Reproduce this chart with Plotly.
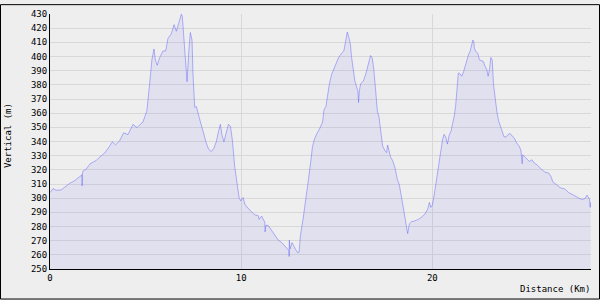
import plotly.graph_objects as go

# Elevation profile (distance in km, elevation in m)
distance_km = [
    0.00, 0.15, 0.32, 0.58, 0.85, 1.02, 1.28, 1.46, 1.63, 1.67, 1.68, 1.70, 1.72, 1.90,
    2.10, 2.42, 2.59, 2.85, 3.08, 3.26, 3.43, 3.64, 3.85, 4.08, 4.34, 4.55, 4.72, 4.86,
    5.07, 5.17, 5.26, 5.33, 5.44, 5.51, 5.61, 5.74, 5.91, 6.05, 6.17, 6.35, 6.49, 6.61,
    6.75, 6.87, 6.92, 7.01, 7.08, 7.17, 7.26, 7.34, 7.43, 7.48, 7.57, 7.66, 7.80, 7.92,
    8.04, 8.18, 8.30, 8.44, 8.57, 8.70, 8.81, 8.91, 9.00, 9.10, 9.23, 9.33, 9.44, 9.54,
    9.66, 9.79, 9.89, 9.98, 10.10, 10.19, 10.36, 10.54, 10.71, 10.89, 10.94, 11.07, 11.15,
    11.24, 11.25, 11.29, 11.41, 11.59, 11.76, 11.94, 12.11, 12.28, 12.46, 12.50, 12.51,
    12.52, 12.55, 12.66, 12.81, 12.93, 13.03, 13.10, 13.24, 13.38, 13.52, 13.64, 13.73,
    13.82, 13.94, 14.08, 14.20, 14.26, 14.33, 14.43, 14.50, 14.61, 14.73, 14.90, 15.08,
    15.25, 15.37, 15.46, 15.55, 15.64, 15.72, 15.77, 15.86, 15.95, 16.04, 16.11, 16.14,
    16.18, 16.25, 16.39, 16.51, 16.61, 16.70, 16.77, 16.86, 16.94, 17.03, 17.12, 17.21,
    17.29, 17.40, 17.52, 17.61, 17.66, 17.73, 17.82, 17.92, 18.05, 18.17, 18.27, 18.36,
    18.45, 18.53, 18.62, 18.71, 18.80, 18.92, 19.01, 19.27, 19.44, 19.62, 19.76, 19.85,
    19.92, 20.00, 20.09, 20.19, 20.28, 20.35, 20.44, 20.53, 20.61, 20.70, 20.79, 20.88,
    20.98, 21.07, 21.15, 21.22, 21.28, 21.36, 21.45, 21.54, 21.63, 21.71, 21.80, 21.89,
    21.98, 22.06, 22.12, 22.17, 22.20, 22.27, 22.38, 22.46, 22.55, 22.67, 22.76, 22.85,
    22.92, 22.99, 23.06, 23.13, 23.20, 23.28, 23.37, 23.46, 23.58, 23.65, 23.75, 23.86,
    23.98, 24.07, 24.19, 24.30, 24.42, 24.54, 24.63, 24.70, 24.73, 24.86, 24.98, 25.08,
    25.21, 25.33, 25.47, 25.61, 25.73, 25.90, 26.08, 26.20, 26.31, 26.48, 26.69, 26.95,
    27.13, 27.30, 27.48, 27.65, 27.77, 27.91, 28.00, 28.09, 28.17, 28.22, 28.26, 28.28,
]
elevation_m = [
    303.9, 306.7, 305.6, 305.8, 308.6, 310.4, 312.3, 313.9, 316.0, 316.5, 308.6, 318.0, 319.0, 320.6,
    324.3, 326.6, 328.9, 331.7, 335.9, 339.8, 337.7, 340.5, 346.1, 344.9, 352.1, 349.8, 352.1, 353.7,
    361.8, 373.4, 387.3, 397.7, 405.3, 397.7, 393.8, 399.3, 403.9, 403.9, 412.7, 416.2, 422.5, 417.8,
    424.8, 429.9, 428.5, 413.9, 396.5, 382.2, 403.5, 416.9, 411.6, 387.3, 364.1, 364.6, 357.2, 351.4,
    344.4, 338.7, 334.5, 332.9, 335.2, 339.8, 346.8, 352.1, 344.4, 339.8, 346.8, 352.1, 350.7, 341.0,
    322.5, 310.9, 300.5, 298.1, 300.5, 295.8, 292.8, 290.5, 288.2, 287.7, 285.0, 287.3, 285.4,
    283.0, 276.2, 280.8, 280.8, 277.3, 273.8, 270.4, 268.8, 266.4, 264.1, 263.0, 258.8,
    270.4, 264.0, 268.6, 265.0, 261.8, 261.8, 273.8, 285.4, 298.1, 313.2, 325.9, 336.3,
    341.0, 345.1, 348.4, 351.4, 353.7, 362.3, 364.6, 370.6, 380.3, 387.3, 392.4, 398.8,
    402.3, 403.9, 410.4, 417.3, 413.2, 408.1, 400.0, 390.7, 382.6, 378.5, 375.2, 367.6,
    375.7, 380.8, 382.6, 387.3, 393.1, 398.8, 400.7, 398.8, 390.7, 376.9, 361.8, 357.2,
    346.8, 336.8, 333.6, 332.2, 337.5, 334.0, 328.9, 326.6, 321.3, 313.2, 309.7, 302.8,
    295.8, 288.2, 283.1, 275.0, 281.9, 283.6, 283.6, 285.0, 286.6, 288.9, 292.4, 297.0,
    293.5, 295.1, 301.6, 310.9, 320.1, 325.9, 331.7, 341.0, 345.1, 343.3, 338.2, 344.4,
    347.5, 352.5, 358.3, 365.3, 376.9, 388.4, 387.7, 386.1, 389.1, 393.1, 396.5, 401.2,
    403.9, 409.3, 411.6, 410.4, 405.8, 403.5, 402.3, 397.7, 397.0, 396.5, 393.1, 390.7,
    386.1, 390.7, 399.3, 397.7, 380.3, 369.9, 361.8, 354.9, 350.2, 348.4, 343.3, 343.3,
    345.1, 345.6, 343.8, 342.1, 338.7, 336.8, 334.0, 324.3, 330.6, 328.9, 327.5, 325.9,
    327.1, 324.8, 323.6, 321.3, 320.1, 318.3, 317.8, 315.5, 311.3, 309.7, 307.4, 306.3,
    303.9, 302.8, 301.6, 300.5, 299.3, 299.3, 300.0, 302.1, 300.5, 299.3, 293.5, 297.0,
]

x_ticks = [0, 10, 20]
y_ticks = list(range(250, 431, 10))

FONT = "DejaVu Sans Mono"

fig = go.Figure()
fig.add_trace(go.Scatter(
    x=distance_km, y=elevation_m, mode="lines",
    line=dict(color="rgba(80,80,255,0.42)", width=1),
    fill="tozeroy", fillcolor="rgba(120,120,235,0.12)",
    hoverinfo="skip",
))

L, R, T, B = 50, 9, 10, 31
W, H = 600, 300
pw, ph = W - L - R, H - T - B

def px(X):
    return (X - L) / pw

def py(Y):
    return (H - B - Y) / ph

fig.update_layout(
    width=W, height=H,
    margin=dict(l=L, r=R, t=T, b=B),
    paper_bgcolor="#EEEEEE", plot_bgcolor="#EEEEEE",
    showlegend=False,
    font=dict(family=FONT, size=9, color="black"),
    xaxis=dict(
        range=[0, 28.3], tickvals=x_ticks, ticktext=[str(v) for v in x_ticks],
        showgrid=True, gridcolor="#D8D8D8", gridwidth=1,
        showline=True, linecolor="black", linewidth=1,
        zeroline=False, ticks="", ticklen=0,
        tickfont=dict(family=FONT, size=9, color="black"),
        fixedrange=True,
    ),
    yaxis=dict(
        range=[250, 430], tickvals=y_ticks, ticktext=[str(v) for v in y_ticks],
        showgrid=True, gridcolor="#D8D8D8", gridwidth=1,
        showline=True, linecolor="black", linewidth=1,
        zeroline=False, ticks="", ticklen=0,
        tickfont=dict(family=FONT, size=9, color="black"),
        fixedrange=True,
    ),
    annotations=[
        dict(text="Vertical (m)", textangle=-90, xref="paper", yref="paper",
             x=px(8), y=py(134), xanchor="center", yanchor="middle",
             showarrow=False, font=dict(family=FONT, size=9, color="black")),
        dict(text="Distance (Km)", xref="paper", yref="paper",
             x=px(592), y=py(289), xanchor="right", yanchor="middle",
             showarrow=False, font=dict(family=FONT, size=9, color="black")),
    ],
    shapes=[
        dict(type="rect", xref="paper", yref="paper",
             x0=px(0.5), x1=px(599.5), y0=py(0.5), y1=py(299.5),
             line=dict(color="black", width=1), layer="above"),
    ],
)

fig.write_html("out.html", config={"displayModeBar": False})
